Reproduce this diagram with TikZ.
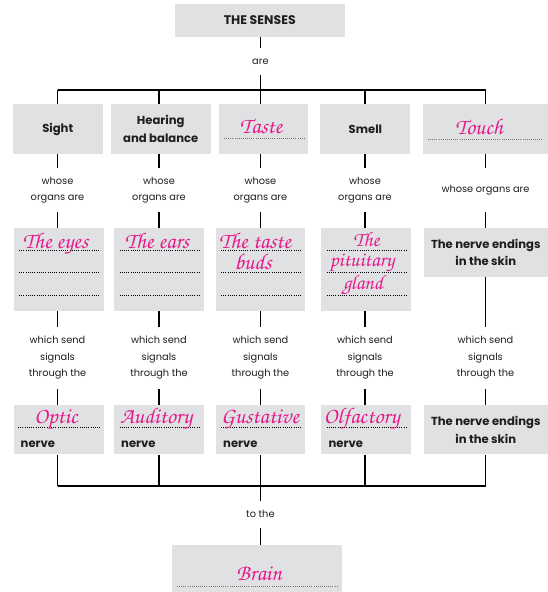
\documentclass[tikz,border=0pt]{standalone}
\usepackage{fontspec}
\setmainfont{Poppins}
\newfontfamily\hand{texgyrechorus-mediumitalic.otf}
\definecolor{boxgray}{RGB}{224,225,227}
\definecolor{pinkink}{RGB}{232,24,140}
\definecolor{txt}{RGB}{30,30,30}
\begin{document}
\begin{tikzpicture}[x=1pt,y=-1pt,
  box/.style={fill=boxgray, draw=none, inner sep=0pt, text=txt, align=center,
              font=\bfseries\fontsize{11.6}{17.5}\selectfont},
  boldtxt/.style={font=\bfseries\fontsize{11.6}{17.5}\selectfont, text=txt, inner sep=0pt},
  small/.style={font=\fontsize{9.8}{16.5}\selectfont, align=center, text=txt, inner sep=0pt},
  hw/.style={font=\hand\fontsize{22.5}{22.5}\selectfont, text=pinkink, inner sep=0pt, anchor=base},
  hwsm/.style={hw, font=\hand\fontsize{20.5}{20.5}\selectfont},
  link/.style={line width=1.1pt, draw=black},
  dotblack/.style={draw=black, line width=0.7pt, dash pattern=on 0.7pt off 1.5pt},
  dotgray/.style={draw=black!55, line width=0.9pt, dash pattern=on 1pt off 1.1pt},
]
\useasboundingbox (0,0) rectangle (548,592);
\fill[white] (0,0) rectangle (548,592);

% ---------- top ----------
\node[box, minimum width=170.5, minimum height=33, font=\bfseries\fontsize{12.5}{15}\selectfont] (top) at (259.75,20.5) {THE SENSES};
\node[small, minimum height=27] (are) at (260.4,61.5) {are};

% ---------- row 1 ----------
\node[box, minimum width=89.5, minimum height=50] (r1a) at (57.75,129) {Sight};
\node[box, minimum width=100.5, minimum height=50] (r1b) at (160.75,129) {Hearing\\and balance};
\node[box, minimum width=89, minimum height=50] (r1c) at (263.5,129) {};
\node[box, minimum width=90, minimum height=50] (r1d) at (365.45,129) {Smell};
\node[box, minimum width=125, minimum height=50] (r1e) at (485.5,129) {};
\node[hw] (taste) at (261,133) {Taste};
\node[hw] (touch) at (479,134) {Touch};
\draw[dotgray] (224,138.7) -- (304.6,138.7);
\draw[dotgray] (428,139.3) -- (543,139.3);

% ---------- whose organs are ----------
\node[small, minimum height=43.4] (w1) at (57.5,190) {whose\\organs are};
\node[small, minimum height=43.4] (w2) at (159,190) {whose\\organs are};
\node[small, minimum height=43.4] (w3) at (260.4,190) {whose\\organs are};
\node[small, minimum height=43.4] (w4) at (365,190) {whose\\organs are};
\node[small, minimum height=43.4] (w5) at (485.5,190) {whose organs are};

% ---------- row 2 ----------
\node[box, minimum width=89.5, minimum height=82.7] (r2a) at (58.75,269.35) {};
\node[box, minimum width=89.1, minimum height=82.7] (r2b) at (158.95,269.35) {};
\node[box, minimum width=89.2, minimum height=82.7] (r2c) at (260.4,269.35) {};
\node[box, minimum width=89.1, minimum height=82.7] (r2d) at (365.95,269.35) {};
\node[box, minimum width=124.5, minimum height=48.7] (r2e) at (485.75,252.35) {The nerve endings\\in the skin};
\foreach \L/\R in {19/99.3, 119.5/199.5, 221/301, 326.5/406.5}{
  \foreach \Y in {250.7,272.7,295}{ \draw[dotblack] (\L,\Y) -- (\R,\Y); }
}
\node[hw] (eyes) at (55.6,248) {The eyes};
\node[hw] (ears) at (157,248) {The ears};
\node[hw] (tb1) at (255,248) {The taste};
\node[hw] (tb2) at (253,269.3) {buds};
\node[hwsm] (pg1) at (366.5,246) {The};
\node[hwsm] (pg2) at (362,266.5) {pituitary};
\node[hwsm] (pg3) at (363,289) {gland};

% ---------- which send signals through the ----------
\foreach \i/\x in {1/57.5, 2/159, 3/260.4, 4/365, 5/485.5}{
  \node[small, minimum height=62] (h\i) at (\x,358) {which send\\signals\\through the};
}

% ---------- row 3 ----------
\node[box, minimum width=89.5, minimum height=49.3] (r3a) at (58.75,429.65) {};
\node[box, minimum width=89.1, minimum height=49.3] (r3b) at (158.95,429.65) {};
\node[box, minimum width=89.2, minimum height=49.3] (r3c) at (260.4,429.65) {};
\node[box, minimum width=89.1, minimum height=49.3] (r3d) at (365.95,429.65) {};
\node[box, minimum width=124.5, minimum height=49.3] (r3e) at (485.75,429.65) {The nerve endings\\in the skin};
\foreach \L/\R in {18/100, 119.5/199.5, 221/301, 326.5/406.5}{
  \draw[dotblack] (\L,427.3) -- (\R,427.3);
}
\node[hw] (optic) at (56,423.3) {Optic};
\node[hw] (audit) at (156,423.3) {Auditory};
\node[hw] (gust) at (260,423.3) {Gustative};
\node[hw] (olf) at (361.7,423.3) {Olfactory};
\node[boldtxt, anchor=west] (n1) at (20.5,444) {nerve};
\node[boldtxt, anchor=west] (n2) at (121,444) {nerve};
\node[boldtxt, anchor=west] (n3) at (223,444) {nerve};
\node[boldtxt, anchor=west] (n4) at (328.4,444) {nerve};

% ---------- bottom ----------
\node[small, minimum height=27.3] (tothe) at (260.4,514.4) {to the};
\node[box, minimum width=170.5, minimum height=50] (brain) at (256.75,570) {};
\node[hw] (brt) at (259,580) {Brain};
\draw[dotgray] (177,586) -- (337.5,586);

% ---------- connectors ----------
\coordinate (t1) at (57.5,90);
\coordinate (t2) at (159,90);
\coordinate (t3) at (260.4,90);
\coordinate (t4) at (365,90);
\coordinate (t5) at (485.5,90);
\coordinate (b1) at (57.5,486);
\coordinate (b2) at (159,486);
\coordinate (b3) at (260.4,486);
\coordinate (b4) at (365,486);
\coordinate (b5) at (485.5,486);

\draw[link] (top.south -| are) -- (are.north);
\draw[link] (are.south) -- (t3);
\draw[link] (t1) -- (t5);
\draw[link] (b1) -- (b5);
\draw[link] (b3) -- (tothe.north);
\draw[link] (tothe.south) -- (tothe |- brain.north);

\foreach \i/\a in {1/a,2/b,3/c,4/d,5/e}{
  \draw[link] (t\i) -- (t\i |- r1\a.north);
  \draw[link] (w\i |- r1\a.south) -- (w\i.north);
  \draw[link] (w\i.south) -- (w\i |- r2\a.north);
  \draw[link] (h\i |- r2\a.south) -- (h\i.north);
  \draw[link] (h\i.south) -- (h\i |- r3\a.north);
  \draw[link] (b\i |- r3\a.south) -- (b\i);
}
\end{tikzpicture}
\end{document}
